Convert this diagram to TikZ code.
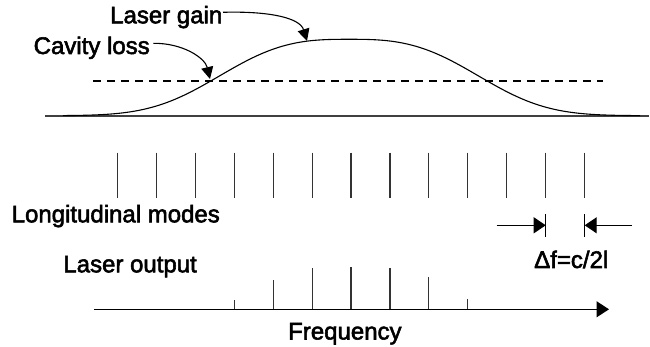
\documentclass[tikz,border=0pt]{standalone}
\usepackage{fontspec}
\setmainfont{Liberation Sans}
\usetikzlibrary{arrows.meta}
% stroke the glyph outlines as well as filling them, for a heavier text colour
\newcommand\heavytext[1]{\special{pdf:literal direct 2 Tr 0.55 w}#1\special{pdf:literal direct 0 Tr}}
\begin{document}
\begin{tikzpicture}[x=1pt,y=-1pt,
  lbl/.style={inner sep=0pt,anchor=base west,font=\fontsize{24}{28}\selectfont},
  thin line/.style={line width=1.1pt,draw=black!80},
  pointer/.style={line width=1.1pt,-{Triangle[length=12pt,width=12pt]}},
  gap arrow/.style={line width=1pt,-{Triangle[length=12pt,width=16pt]}},
  axis/.style={line width=1.2pt,-{Triangle[length=12.5pt,width=16pt]}}]
\useasboundingbox (0,0) rectangle (650,347);

% ---- gain curve, loss level and baseline ----
\draw[line width=1.8pt,draw=black!75] (45,115.7) coordinate (bl) -- (649,115.7) coordinate (br);
\draw[line width=1.1pt,dash pattern=on 8pt off 6pt] (93.3,81) coordinate (ls) -- (603.3,81) coordinate (le);
\draw[line width=1.1pt,samples=240,domain=63:640,smooth]
  plot (\x,{115.7-76.4*exp(-((abs(\x-349)+0.01)/150)^2.9)});

% ---- labels with pointers ----
\node[lbl] (lg) at (110,23.3) {\heavytext{Laser gain}};
\node[lbl] (cl) at (33.5,54) {\heavytext{Cavity loss}};
\coordinate (lgs) at (223,12.3);
\coordinate (lgt) at (307,41);
\coordinate (cls) at (153.3,43.3);
\coordinate (clt) at (210,79);
\draw[pointer] (lgs) .. controls (270,11) and (300,18) .. (lgt);
\draw[pointer] (cls) .. controls (183,43) and (205,58) .. (clt);

% ---- longitudinal modes ----
\foreach \i in {0,...,12}{
  \draw[thin line] ({117.3+38.95*\i},152.7) coordinate (m\i) -- ({117.3+38.95*\i},198.3);
}
\node[lbl] (lm) at (11.5,222.3) {\heavytext{Longitudinal modes}};

% ---- mode spacing ----
\coordinate (ta) at (545.7,225.3);
\coordinate (tb) at (584.7,225.3);
\draw[line width=1pt] (545.7,214.5) -- (545.7,237.5);
\draw[line width=1pt] (584.7,214.5) -- (584.7,237.5);
\coordinate (aa) at (496.7,225.3);
\coordinate (ab) at (632,225.3);
\draw[gap arrow] (aa) -- (ta);
\draw[gap arrow] (ab) -- (tb);
\node[lbl] (df) at (534,268) {\heavytext{Δf=c/2l}};

% ---- laser output spectrum ----
\node[lbl] (lo) at (63.2,272.3) {\heavytext{Laser output}};
\coordinate (ax0) at (94.3,309.3);
\coordinate (ax1) at (609,309.3);
\foreach \i/\top in {3/300,4/280,5/268.3,6/266.7,7/268.3,8/277.3,9/299}{
  \draw[thin line] ({117.3+38.95*\i},309.3) -- ({117.3+38.95*\i},\top);
}
\draw[axis] (ax0) -- (ax1);
\node[lbl] (fq) at (288,339.5) {\heavytext{Frequency}};
\end{tikzpicture}
\end{document}
